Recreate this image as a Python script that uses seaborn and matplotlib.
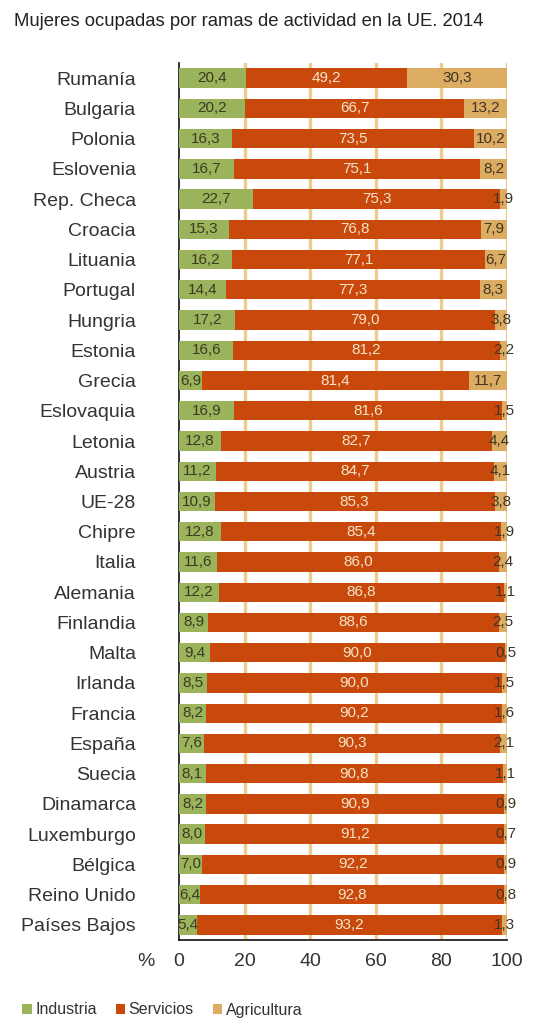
import numpy as np
import pandas as pd
import seaborn as sns
import matplotlib
matplotlib.use("Agg")
import matplotlib.pyplot as plt
from matplotlib.patches import Patch

countries = ["Rumanía", "Bulgaria", "Polonia", "Eslovenia", "Rep. Checa", "Croacia",
             "Lituania", "Portugal", "Hungria", "Estonia", "Grecia", "Eslovaquia",
             "Letonia", "Austria", "UE-28", "Chipre", "Italia", "Alemania", "Finlandia",
             "Malta", "Irlanda", "Francia", "España", "Suecia", "Dinamarca",
             "Luxemburgo", "Bélgica", "Reino Unido", "Países Bajos"]
industria = [20.4, 20.2, 16.3, 16.7, 22.7, 15.3, 16.2, 14.4, 17.2, 16.6, 6.9, 16.9,
             12.8, 11.2, 10.9, 12.8, 11.6, 12.2, 8.9, 9.4, 8.5, 8.2, 7.6, 8.1, 8.2,
             8.0, 7.0, 6.4, 5.4]
servicios = [49.2, 66.7, 73.5, 75.1, 75.3, 76.8, 77.1, 77.3, 79.0, 81.2, 81.4, 81.6,
             82.7, 84.7, 85.3, 85.4, 86.0, 86.8, 88.6, 90.0, 90.0, 90.2, 90.3, 90.8,
             90.9, 91.2, 92.2, 92.8, 93.2]
agricultura = [30.3, 13.2, 10.2, 8.2, 1.9, 7.9, 6.7, 8.3, 3.8, 2.2, 11.7, 1.5,
               4.4, 4.1, 3.8, 1.9, 2.4, 1.1, 2.5, 0.5, 1.5, 1.6, 2.1, 1.1, 0.9,
               0.7, 0.9, 0.8, 1.3]
series_names = ["Industria", "Servicios", "Agricultura"]
xticks = [0, 20, 40, 60, 80, 100]
title = "Mujeres ocupadas por ramas de actividad en la UE. 2014"

c_ind = "#9BB35B"
c_ser = "#C8490B"
c_agr = "#DCAC63"
c_grid = "#ECCD8E"

df = pd.DataFrame({"pais": countries, "ind": industria, "ser": servicios, "agr": agricultura})
df["c1"] = df["ind"]
df["c2"] = df["ind"] + df["ser"]
df["c3"] = df["c2"] + df["agr"]

sns.set_theme(style="white")
plt.rcParams["font.family"] = ["Liberation Sans", "DejaVu Sans"]

fig = plt.figure(figsize=(5.51, 10.24), dpi=100)
ax = fig.add_axes([179 / 551, 1 - 940 / 1024, (507 - 179) / 551, (940 - 63) / 1024])

for xv in xticks[1:]:
    ax.axvline(xv, color=c_grid, lw=2.4, zorder=0)

bw = 0.64
for col, c, z in (("c3", c_agr, 2), ("c2", c_ser, 3), ("c1", c_ind, 4)):
    sns.barplot(data=df, x=col, y="pais", order=countries, color=c, width=bw,
                saturation=1, linewidth=0, edgecolor="none", ax=ax, zorder=z)

def fmt(v):
    return f"{v:.1f}".replace(".", ",")

lab_fs = 11
for i, row in df.iterrows():
    ax.text(row["ind"] / 2, i, fmt(row["ind"]), ha="center", va="center",
            fontsize=lab_fs, color="#3B3B22", zorder=6, clip_on=False)
    ax.text(row["ind"] + row["ser"] / 2, i, fmt(row["ser"]), ha="center", va="center",
            fontsize=lab_fs, color="#F6E4C8", zorder=6, clip_on=False)
    ax.text(row["c2"] + row["agr"] / 2, i, fmt(row["agr"]), ha="center", va="center",
            fontsize=lab_fs, color="#3F3522", zorder=6, clip_on=False)

ax.set_xlim(0, 100)
ax.set_ylim(len(countries) - 0.5, -0.5)
ax.set_xticks(xticks)
ax.set_xticklabels([str(t) for t in xticks], fontsize=14, color="#333333")
ax.set_xlabel("")
ax.set_ylabel("")
ax.set_yticks(np.arange(len(countries)), countries)
ax.tick_params(axis="y", length=0, labelsize=14, labelcolor="#333333", pad=31)
ax.set_yticks(np.arange(len(countries) + 1) - 0.5, minor=True)
ax.tick_params(axis="y", which="minor", length=5, width=1.2, color="#222222", direction="out")
ax.tick_params(axis="x", length=4, width=1.2, color="#222222", direction="out", pad=5)

for s in ["top", "right"]:
    ax.spines[s].set_visible(False)
for s in ["left", "bottom"]:
    ax.spines[s].set_color("#111111")
    ax.spines[s].set_linewidth(1.2)

fig.text(146 / 551, 1 - 961 / 1024, "%", fontsize=14, color="#333333", ha="center", va="center")
fig.text(14 / 551, 1 - 22 / 1024, title, fontsize=13.3, color="#222222", ha="left", va="center")

handles = [Patch(facecolor=c, edgecolor="none") for c in (c_ind, c_ser, c_agr)]
fig.legend(handles, series_names, loc="center left", bbox_to_anchor=(8 / 551, 1 - 1010 / 1024),
           ncol=3, frameon=False, fontsize=11.5, handlelength=0.6, handleheight=0.6,
           handletextpad=0.2, columnspacing=1.2, labelcolor="#333333")

fig.savefig("out.png", dpi=100, facecolor="white")
